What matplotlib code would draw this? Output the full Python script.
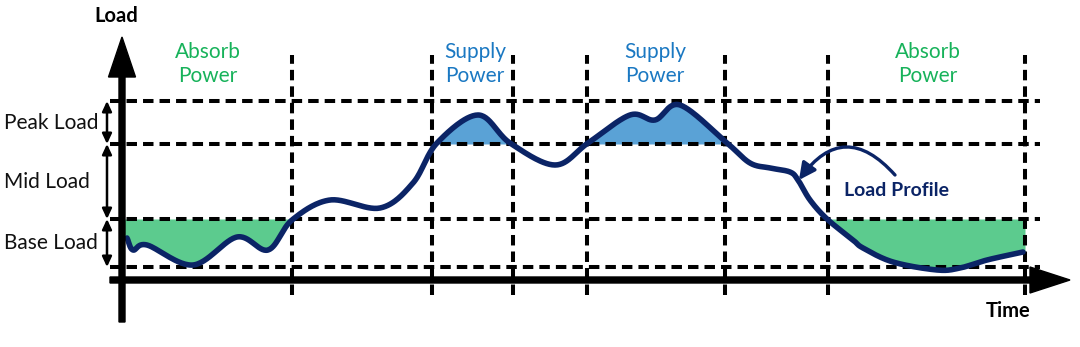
import numpy as np
import matplotlib
matplotlib.use("Agg")
import matplotlib.pyplot as plt
from matplotlib.patches import FancyArrow

# ---- data (time units, load units; x-axis at load 0, y-axis at time 0) ----
profile_t = [5, 11, 25, 71, 115, 146, 170, 208, 258, 291, 315, 356, 388, 433,
             466, 508, 533, 558, 605, 628, 648, 668, 676, 688, 705, 731,
             741, 771, 815, 838, 865, 901]
profile_load = [42, 30, 35, 15, 43, 30, 60, 80, 72, 97, 137, 165, 137, 115,
                137, 165, 160, 175, 137, 117, 112, 108, 100, 80, 61, 40,
                32, 18, 10, 12, 20, 28]

level_values = [13, 61, 136, 179]          # base bottom, base/mid, mid/peak, peak top
level_names = ["Base Load", "Mid Load", "Peak Load"]
period_bounds = [170, 310, 391, 465, 603, 706, 903]
period_labels = ["Absorb\nPower", "Supply\nPower", "Supply\nPower", "Absorb\nPower"]
period_centers = [86, 353, 533, 806]
period_kinds = ["absorb", "supply", "supply", "absorb"]
absorb_ranges = [(0, 170), (706, 903)]

NAVY = "#0b2466"
GREEN_FILL = "#5ccb8e"
GREEN_TXT = "#17b25a"
BLUE_FILL = "#5aa2d6"
BLUE_TXT = "#1a78c2"

plt.rcParams['font.family'] = ['Lato', 'DejaVu Sans']


def catmull_rom(x, y, n=30):
    x = np.asarray(x, float); y = np.asarray(y, float)
    px = np.concatenate([[2 * x[0] - x[1]], x, [2 * x[-1] - x[-2]]])
    py = np.concatenate([[2 * y[0] - y[1]], y, [2 * y[-1] - y[-2]]])
    xs, ys = [], []
    for i in range(1, len(px) - 2):
        s = np.linspace(0, 1, n, endpoint=False)
        for P, out in ((px, xs), (py, ys)):
            p0, p1, p2, p3 = P[i - 1], P[i], P[i + 1], P[i + 2]
            out.append(0.5 * ((2 * p1) + (-p0 + p2) * s +
                              (2 * p0 - 5 * p1 + 4 * p2 - p3) * s ** 2 +
                              (-p0 + 3 * p1 - 3 * p2 + p3) * s ** 3))
    xs.append([x[-1]]); ys.append([y[-1]])
    return np.concatenate(xs), np.concatenate(ys)


fig = plt.figure(figsize=(10.8, 3.47), dpi=100)
ax = fig.add_axes([0, 0, 1, 1])
ax.set_xlim(-122, 958)
ax.set_ylim(-67, 280)
ax.axis("off")

tt, ll = catmull_rom(profile_t, profile_load)

# fills
base_top, mid_top = level_values[1], level_values[2]
for a, b in absorb_ranges:
    tx = np.concatenate([[a], tt[(tt >= a) & (tt <= b)], [b]])
    lx = np.interp(tx, tt, ll)
    ax.fill_between(tx, np.minimum(lx, base_top), base_top, color=GREEN_FILL, lw=0, zorder=1)
ax.fill_between(tt, np.maximum(ll, mid_top), mid_top, color=BLUE_FILL, lw=0, zorder=1)

# dashed grid
dash = dict(color="black", lw=2.9, linestyles=(0, (2.6, 1.5)), zorder=2)
ax.hlines(level_values, -12, 918, **dash)
ax.vlines(period_bounds, -15, 225, **dash)

# axes arrows
ax.add_patch(FancyArrow(0, -42, 0, 285, width=6, head_width=27, head_length=40,
                        length_includes_head=True, color="black", zorder=4))
ax.add_patch(FancyArrow(-12, 0, 960, 0, width=6, head_width=26, head_length=40,
                        length_includes_head=True, color="black", zorder=4))

# profile curve
ax.plot(tt, ll, color=NAVY, lw=4.0, solid_capstyle="round", zorder=3)

# level double arrows and names
for lo, hi, name in zip(level_values[:-1], level_values[1:], level_names):
    ax.annotate("", xy=(-15, hi), xytext=(-15, lo),
                arrowprops=dict(arrowstyle="<|-|>,head_length=0.6,head_width=0.28",
                                color="black", lw=1.8, shrinkA=0, shrinkB=0), zorder=4)
    ax.text(-118, (lo + hi) / 2, name, ha="left", va="center", fontsize=15, color="#111111")

# period labels
for c, lab, kind in zip(period_centers, period_labels, period_kinds):
    ax.text(c, 216, lab, ha="center", va="center", fontsize=15, linespacing=1.22,
            color=GREEN_TXT if kind == "absorb" else BLUE_TXT)

# axis titles
ax.text(-6, 264, "Load", ha="center", va="center", fontsize=14.5, fontweight="bold")
ax.text(886, -31, "Time", ha="center", va="center", fontsize=14.5, fontweight="bold")

# load profile label with curved arrow
ax.text(775, 90, "Load Profile", ha="center", va="center", fontsize=14,
        fontweight="bold", color=NAVY)
ax.annotate("", xy=(677, 100), xytext=(773, 105),
            arrowprops=dict(arrowstyle="-|>,head_length=1.0,head_width=0.5",
                            connectionstyle="arc3,rad=0.62", color=NAVY, lw=2.4,
                            shrinkA=0, shrinkB=0), zorder=5)

fig.savefig("out.png", dpi=100)
